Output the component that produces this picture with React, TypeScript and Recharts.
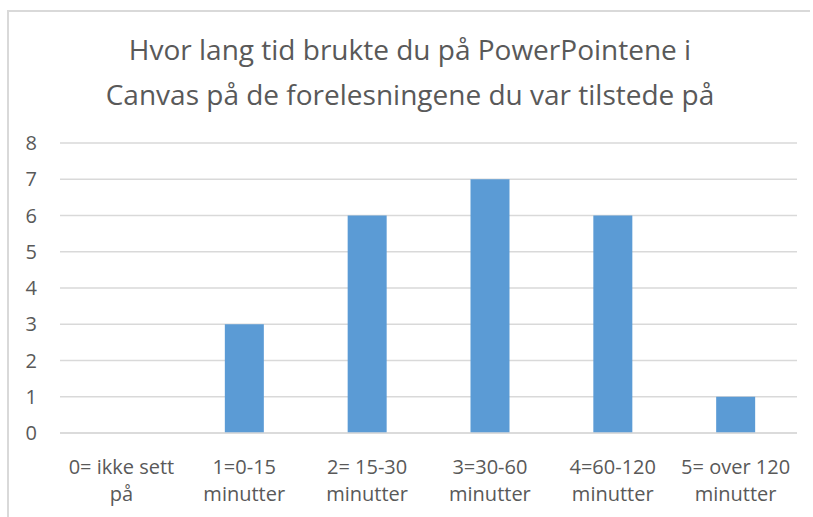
import { Bar, BarChart, CartesianGrid, XAxis, YAxis } from 'recharts'

const categories = [
  ['0= ikke sett', 'på'],
  ['1=0-15', 'minutter'],
  ['2= 15-30', 'minutter'],
  ['3=30-60', 'minutter'],
  ['4=60-120', 'minutter'],
  ['5= over 120', 'minutter']
]
const counts = [0, 3, 6, 7, 6, 1]
const yTicks = [0, 1, 2, 3, 4, 5, 6, 7, 8]
const titleLines = [
  'Hvor lang tid brukte du på PowerPointene i',
  'Canvas på de forelesningene du var tilstede på'
]

const data = categories.map((lines, i) => ({
  name: lines.join('\n'),
  antall: counts[i]
}))

const FONT = "'Open Sans', 'Noto Sans', sans-serif"
const GREY = '#595959'

const CategoryTick = ({ x, y, payload }: any) => {
  const lines = String(payload.value).split('\n')
  return (
    <g>
      {lines.map((line: string, i: number) => (
        <text
          key={i}
          x={x}
          y={y + 33 + i * 27}
          textAnchor='middle'
          fontSize={20}
          fontFamily={FONT}
          fill={GREY}
        >
          {line}
        </text>
      ))}
    </g>
  )
}

export default function App() {
  return (
    <div
      style={{
        position: 'absolute',
        left: 0,
        top: 0,
        width: 813,
        height: 517,
        overflow: 'hidden',
        background: '#fff'
      }}
    >
      {/* chart frame: only top and left edges are in view */}
      <div
        style={{
          position: 'absolute',
          left: 7,
          top: 10,
          width: 803,
          height: 2,
          background: '#D9D9D9'
        }}
      />
      <div
        style={{
          position: 'absolute',
          left: 7,
          top: 10,
          width: 2,
          height: 507,
          background: '#D9D9D9'
        }}
      />
      <div
        style={{
          position: 'absolute',
          left: 10,
          top: 27,
          width: 800,
          textAlign: 'center',
          fontFamily: FONT,
          fontSize: 28,
          lineHeight: '45px',
          color: GREY
        }}
      >
        {titleLines.map((t) => (
          <div key={t}>{t}</div>
        ))}
      </div>
      <div style={{ position: 'absolute', left: 0, top: 0 }}>
        <BarChart
          width={813}
          height={517}
          data={data}
          margin={{ top: 143, right: 16, bottom: 0, left: 0 }}
        >
          <CartesianGrid vertical={false} stroke='#D9D9D9' strokeWidth={1.5} />
          <XAxis
            dataKey='name'
            height={84}
            axisLine={{ stroke: '#D9D9D9', strokeWidth: 1.5 }}
            tickLine={false}
            interval={0}
            tick={<CategoryTick />}
          />
          <YAxis
            width={60}
            domain={[0, 8]}
            ticks={yTicks}
            axisLine={false}
            tickLine={false}
            tickMargin={17}
            tick={{ fontSize: 20, fontFamily: FONT, fill: GREY }}
          />
          <Bar dataKey='antall' fill='#5B9BD5' barSize={39} isAnimationActive={false} />
        </BarChart>
      </div>
    </div>
  )
}
